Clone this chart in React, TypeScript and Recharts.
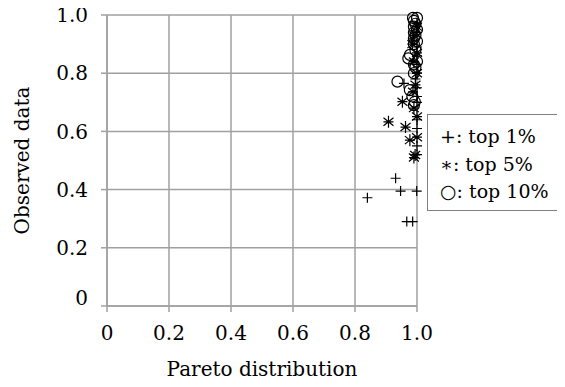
import React from 'react';
import { ScatterChart, Scatter, XAxis, YAxis, CartesianGrid } from 'recharts';

// [pareto, observed]
const top1: [number, number][] = [
  [0.84, 0.372], [0.931, 0.439], [0.947, 0.395], [0.999, 0.395], [0.967, 0.29], [0.986, 0.29],
  [0.958, 0.765], [1.0, 0.52], [1.0, 0.55], [1.0, 0.61], [1.0, 0.64], [1.0, 0.7], [1.0, 0.72],
  [1.0, 0.75], [0.995, 0.78], [1.0, 0.8], [1.0, 0.83], [1.0, 0.86], [1.0, 0.89], [0.99, 0.91],
  [1.0, 0.94], [1.0, 0.97],
];
const top5: [number, number][] = [
  [0.908, 0.633], [0.963, 0.615], [0.953, 0.702], [0.977, 0.57], [1.0, 0.651], [0.994, 0.519],
  [0.99, 0.51], [0.987, 0.736], [0.99, 0.68], [1.0, 0.58], [0.995, 0.76], [1.0, 0.8], [0.99, 0.84],
  [1.0, 0.87], [0.985, 0.9], [0.99, 0.93], [1.0, 0.96],
];
const top10: [number, number][] = [
  [0.937, 0.771], [0.972, 0.851], [0.977, 0.742], [0.993, 0.702], [0.985, 0.72], [0.99, 0.69],
  [0.99, 0.8], [0.995, 0.82], [0.99, 0.83], [1.0, 0.84], [0.977, 0.863], [0.995, 0.88], [0.99, 0.9],
  [1.0, 0.91], [0.99, 0.92], [0.995, 0.93], [0.99, 0.94], [1.0, 0.95], [0.99, 0.96], [0.995, 0.97],
  [0.99, 0.98], [1.0, 0.99], [0.987, 0.99],
];
const ticks = [0, 0.2, 0.4, 0.6, 0.8, 1.0];
const legendLabels = ['+: top 1%', '\u2217: top 5%', '\u25CB: top 10%'];

const toRows = (arr: [number, number][]) => arr.map(([x, y]) => ({ x, y }));
const fmt = (v: number) => (v === 0 ? '0' : v.toFixed(1));

const font = '"DejaVu Serif", serif';
const gray = '#a0a0a0';
const fs = 20;

const Plus = ({ cx, cy }: any) => (
  <path d={`M${cx - 5},${cy}H${cx + 5}M${cx},${cy - 5}V${cy + 5}`} stroke="#000" strokeWidth={1.2} fill="none" />
);
const Star = ({ cx, cy }: any) => (
  <path
    d={`M${cx - 5},${cy}H${cx + 5}M${cx},${cy - 6}V${cy + 6}M${cx - 5},${cy - 4}L${cx + 5},${cy + 4}M${cx - 5},${cy + 4}L${cx + 5},${cy - 4}`}
    stroke="#000" strokeWidth={1.2} fill="none"
  />
);
const Ring = ({ cx, cy }: any) => <circle cx={cx} cy={cy} r={5.5} stroke="#000" strokeWidth={1.2} fill="none" />;

// the "0" on the value axis sits a little above its tick in the original
const YTick = ({ x, y, payload }: any) => (
  <text x={x} y={payload.value === 0 ? y - 8 : y} dy="0.355em" textAnchor="end" fill="#000" fontSize={fs} fontFamily={font}>
    {fmt(payload.value)}
  </text>
);

export default function App() {
  return (
    <div style={{ margin: -8, position: 'relative', width: 565, height: 387, background: '#fff', fontFamily: font, overflow: 'hidden' }}>
      <ScatterChart width={565} height={387} margin={{ top: 15, right: 148, bottom: 21, left: 47 }}>
        <CartesianGrid stroke={gray} strokeWidth={1.5} />
        <XAxis
          type="number"
          dataKey="x"
          domain={[0, 1]}
          ticks={ticks}
          tickFormatter={fmt}
          height={60}
          stroke={gray}
          strokeWidth={1.5}
          tickSize={6}
          tickMargin={14}
          tick={{ fill: '#000', fontSize: fs, fontFamily: font }}
          label={{ value: 'Pareto distribution', position: 'insideBottom', offset: -10, fill: '#000', fontSize: fs, fontFamily: font }}
        />
        <YAxis
          type="number"
          dataKey="y"
          domain={[0, 1]}
          ticks={ticks}
          width={60}
          stroke={gray}
          strokeWidth={1.5}
          tickSize={6}
          tickMargin={13}
          tick={<YTick />}
          label={{ value: 'Observed data', position: 'center', angle: -90, dx: -55, fill: '#000', fontSize: fs, fontFamily: font }}
        />
        <Scatter data={toRows(top1)} shape={Plus} isAnimationActive={false} />
        <Scatter data={toRows(top5)} shape={Star} isAnimationActive={false} />
        <Scatter data={toRows(top10)} shape={Ring} isAnimationActive={false} />
      </ScatterChart>
      <div
        style={{
          position: 'absolute', left: 427, top: 114, width: 138, height: 97,
          border: '1px solid #808080', borderRight: 'none', background: '#fff', boxSizing: 'border-box',
          padding: '8px 0 0 12px', fontSize: 19, lineHeight: '27.5px', color: '#000',
        }}
      >
        {legendLabels.map((t) => (
          <div key={t} style={{ whiteSpace: 'nowrap' }}>{t}</div>
        ))}
      </div>
    </div>
  );
}
